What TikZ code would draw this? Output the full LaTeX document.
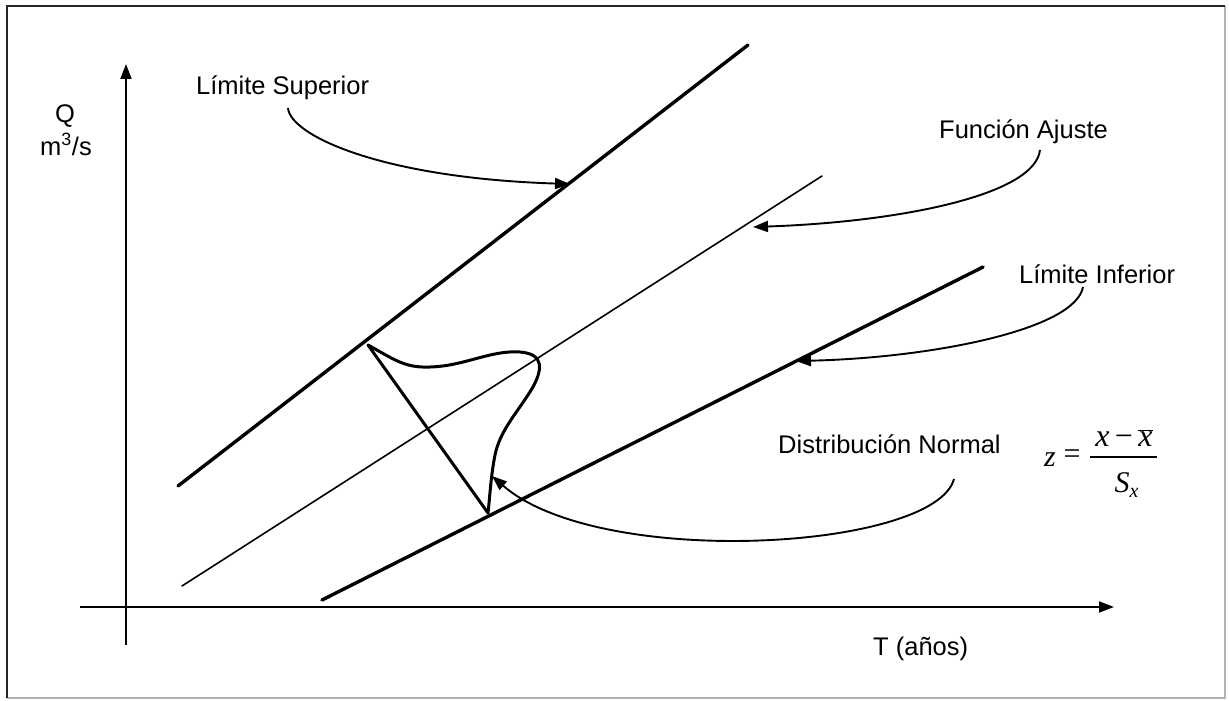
\documentclass[tikz,border=0pt]{standalone}
\usepackage{fontspec}
\setmainfont{Liberation Sans}
\newfontfamily\tms{Liberation Serif}
\usetikzlibrary{arrows.meta}
\tikzset{
  lbl/.style={font=\fontsize{25.5}{30}\selectfont, inner sep=0pt, anchor=base west},
  mth/.style={inner sep=0pt, font=\tms\itshape\fontsize{30}{34}\selectfont},
  limline/.style={line width=3.4pt, line cap=round},
  fitline/.style={line width=1.6pt, line cap=round},
  axisline/.style={line width=1.8pt, -{Triangle[length=15pt,width=11pt]}},
  callout/.style={line width=1.9pt, -{Triangle[length=15pt,width=11pt]}},
  distline/.style={line width=3pt, line join=round, line cap=round}
}
\begin{document}
\begin{tikzpicture}[x=1pt,y=-1pt]
\useasboundingbox (0,0) rectangle (1229,701);
% frame
\draw[line width=1.2pt, gray!60] (1225,6) -- (1225,698) -- (7,698);
\draw[line width=2pt, black!85] (7,698) -- (7,6) -- (1225,6);

% axes
\coordinate (yb) at (126,645);
\coordinate (yt) at (126,64);
\coordinate (xl) at (80,607);
\coordinate (xr) at (1114,607);
\draw[axisline] (yb) -- (yt);
\draw[axisline] (xl) -- (xr);

% lines
\coordinate (us) at (178,486);
\coordinate (ue) at (748,45);
\coordinate (fs) at (182,586);
\coordinate (fe) at (822,176);
\coordinate (ls) at (322,600);
\coordinate (le) at (983,267);
\draw[limline] (us) -- (ue);
\draw[fitline] (fs) -- (fe);
\draw[limline] (ls) -- (le);

% distribution
\coordinate (A) at (368,345);
\coordinate (B) at (488,513);
\draw[distline] (A) -- (B);
\draw[distline] (A) .. controls (395,360) and (405,368) .. (430,367)
  .. controls (465,366) and (490,350) .. (520,352)
  .. controls (545,354) and (542,370) .. (533,387)
  .. controls (518,412) and (500,430) .. (495,455)
  .. controls (491,475) and (490,495) .. (B);

% labels
\node[lbl, anchor=base] (q) at (65,122) {Q};
\node[lbl, anchor=base] (m) at (66,155) {m\textsuperscript{3}/s};
\node[lbl] (lsup) at (196,95) {Límite Superior};
\node[lbl] (fun) at (939,138) {Función Ajuste};
\node[lbl] (linf) at (1019,283) {Límite Inferior};
\node[lbl] (dn) at (778,453) {Distribución Normal};
\node[lbl] (ta) at (873,655) {T (años)};

% formula
\node[mth, anchor=base west] (fzz) at (1044,466) {z};
\node[mth, font=\tms\fontsize{30}{34}\selectfont, anchor=center] (feq) at (1072,457) {=};
\coordinate (fb1) at (1090,457);
\coordinate (fb2) at (1157,457);
\draw[line width=1.3pt] (fb1) -- (fb2);
\node[mth, anchor=base, font=\tms\itshape\fontsize{32}{36}\selectfont] (fnum) at (1124,446)
  {x\,{\upshape−}\,$\overline{\hbox{\tms\itshape x}}$};
\node[mth, anchor=base] (fden) at (1122,492)
  {S\hbox to 0pt{\raisebox{-5pt}{\fontsize{20}{22}\selectfont x}\hss}};

% callouts
\coordinate (c1s) at (288,108);
\coordinate (c1e) at (570,184);
\coordinate (c2s) at (1040,150);
\coordinate (c2e) at (753,227);
\coordinate (c3s) at (1083,287);
\coordinate (c3e) at (796,361);
\coordinate (c4s) at (954,479);
\coordinate (c4e) at (492,476);
\draw[callout] (c1s) .. controls (290,135) and (380,178) .. (c1e);
\draw[callout] (c2s) .. controls (1035,195) and (900,222) .. (c2e);
\draw[callout] (c3s) .. controls (1075,330) and (930,358) .. (c3e);
\draw[callout] (c4s) .. controls (935,550) and (600,570) .. (c4e);
\end{tikzpicture}
\end{document}
